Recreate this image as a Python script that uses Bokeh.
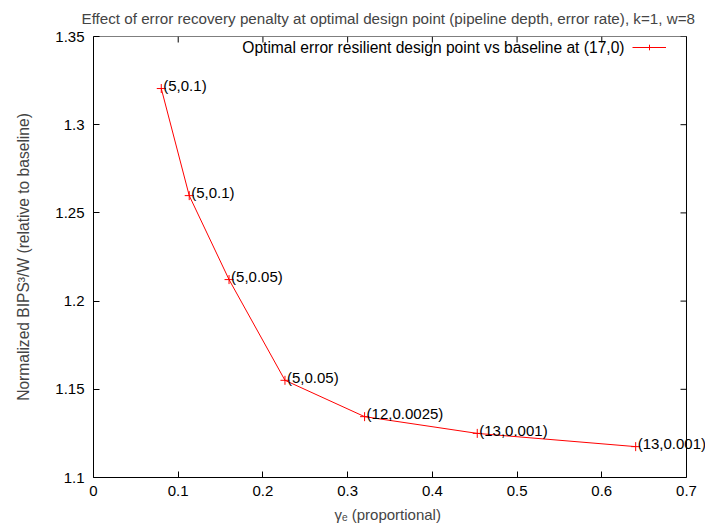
import math
from bokeh.plotting import figure
from bokeh.models import (FixedTicker, ColumnDataSource, Label, Title,
                          Legend, LegendItem, Range1d)
from bokeh.embed import file_html
from bokeh.resources import INLINE

# ---- data ----
gamma_e = [0.08, 0.113, 0.16, 0.226, 0.32, 0.453, 0.64]
bips3_w = [1.3205, 1.2598, 1.2122, 1.1551, 1.1345, 1.1250, 1.1175]
point_labels = ["(5,0.1)", "(5,0.1)", "(5,0.05)", "(5,0.05)",
                "(12,0.0025)", "(13,0.001)", "(13,0.001)"]
x_ticks = [0, 0.1, 0.2, 0.3, 0.4, 0.5, 0.6, 0.7]
x_tick_labels = ["0", "0.1", "0.2", "0.3", "0.4", "0.5", "0.6", "0.7"]
y_ticks = [1.1, 1.15, 1.2, 1.25, 1.3, 1.35]
y_tick_labels = ["1.1", "1.15", "1.2", "1.25", "1.3", "1.35"]
series_name = "Optimal error resilient design point vs baseline at (17,0)"
title_text = "Effect of error recovery penalty at optimal design point (pipeline depth, error rate), k=1, w=8"
x_label = "γₑ (proportional)"
y_label = "Normalized BIPS³/W (relative to baseline)"

FONT = "Liberation Sans"
FS = "15px"
X0, X1 = 0, 0.7
Y0, Y1 = 1.1, 1.35

# layout: the plotting box spans px 93..686, but the frame is extended to the
# window edge so that point labels may run past the right border (as in gnuplot)
LEFT, BOX_RIGHT, WIN_W = 93, 686, 705
X_EXT = X1 * (WIN_W - LEFT) / (BOX_RIGHT - LEFT)

p = figure(width=WIN_W, height=529, output_backend="svg", toolbar_location=None,
           x_range=Range1d(X0, X_EXT), y_range=Range1d(Y0, Y1),
           min_border_left=LEFT, min_border_right=0, min_border_top=36, min_border_bottom=52)
p.title.text = title_text
p.title.text_font = FONT
p.title.text_font_size = "15.2px"
p.title.text_font_style = "normal"
p.title.align = "left"
p.title.offset = -12
p.title.vertical_align = "top"
p.title.standoff = 16

p.xgrid.visible = False
p.ygrid.visible = False
p.outline_line_color = None
p.background_fill_color = "white"
p.border_fill_color = "white"

def style_axis(ax, ticks, labels):
    ax.ticker = FixedTicker(ticks=ticks)
    ax.major_label_overrides = {t: l for t, l in zip(ticks, labels)}
    ax.axis_line_color = "black"
    ax.axis_line_width = 1
    ax.major_tick_in = 6
    ax.major_tick_out = 0
    ax.major_tick_line_color = "black"
    ax.minor_tick_line_color = None
    ax.major_label_text_font = FONT
    ax.major_label_text_font_size = FS
    ax.major_label_text_color = "black"
    ax.axis_label_text_font = FONT
    ax.axis_label_text_font_size = FS
    ax.axis_label_text_font_style = "normal"

xa = p.xaxis[0]
style_axis(xa, x_ticks, x_tick_labels)
xa.bounds = (X0, X1)          # bottom edge of the box stops at 0.7
xa.major_label_standoff = 8

ya = p.yaxis[0]
style_axis(ya, y_ticks, y_tick_labels)
ya.axis_label = y_label
ya.axis_label_text_font_size = "15.6px"
ya.major_label_standoff = 9
ya.axis_label_standoff = 20

# x axis title, positioned under the plotting box
p.add_layout(Title(text=x_label, align="left", offset=241, text_font=FONT,
                   text_font_size=FS, text_font_style="normal", standoff=11), "below")

# right and top edges of the box (infinite rays clipped by the frame)
p.ray(x=[X1, X1], y=[Y0, Y1], length=0, angle=[math.pi / 2, math.pi],
      line_color="black", line_width=1)

# mirrored inward ticks on the top and right edges
p.ray(x=x_ticks, y=[Y1] * len(x_ticks), length=6, length_units="screen",
      angle=-math.pi / 2, line_color="black", line_width=1)
p.ray(x=[X1] * len(y_ticks), y=y_ticks, length=6, length_units="screen",
      angle=math.pi, line_color="black", line_width=1)

src = ColumnDataSource(dict(x=gamma_e, y=bips3_w))
ln = p.line("x", "y", source=src, line_color="red", line_width=1)
mk = p.scatter("x", "y", source=src, marker="cross", size=9, line_color="red", line_width=1)

for xv, yv, txt in zip(gamma_e, bips3_w, point_labels):
    p.add_layout(Label(x=xv, y=yv, text=txt, x_offset=2, y_offset=3,
                       text_baseline="middle", text_align="left",
                       text_font=FONT, text_font_size=FS, text_color="black"))

# legend: text on the left, sample on the right (gnuplot style)
p.add_layout(Label(x=531, y=430, x_units="screen", y_units="screen", text=series_name,
                   text_align="right", text_baseline="middle",
                   text_font=FONT, text_font_size="15.6px", text_color="black"))
leg = Legend(items=[LegendItem(label=" ", renderers=[ln, mk])],
             location=(539, 423), padding=0, margin=0, border_line_color=None,
             background_fill_alpha=0, glyph_width=34, glyph_height=14,
             label_standoff=0, label_text_font_size="1px")
p.add_layout(leg, "center")

open("out.html", "w").write(file_html(p, INLINE))
